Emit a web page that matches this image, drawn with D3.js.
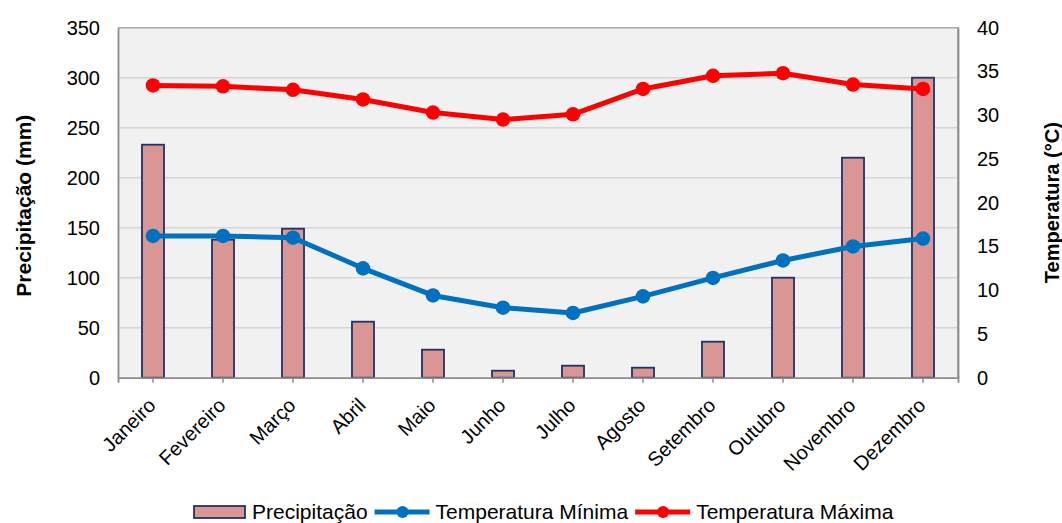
<!DOCTYPE html>
<html lang="pt">
<head>
<meta charset="utf-8">
<script src="https://cdn.jsdelivr.net/npm/d3@7"></script>
<style>
  html, body { margin: 0; padding: 0; background: #fff; }
  svg { display: block; font-family: "Liberation Sans", Arial, sans-serif; }
</style>
</head>
<body>
<svg id="chart" width="1062" height="523"></svg>
<script>
// Climate normals per month
const months = ["Janeiro", "Fevereiro", "Março", "Abril", "Maio", "Junho",
                "Julho", "Agosto", "Setembro", "Outubro", "Novembro", "Dezembro"];
const precipitation = [233, 138, 149, 56, 28, 7, 12, 10, 36, 100, 220, 300];
const tempMin = [16.2, 16.2, 16.0, 12.5, 9.4, 8.0, 7.4, 9.3, 11.4, 13.4, 15.0, 15.9];
const tempMax = [33.4, 33.3, 32.9, 31.8, 30.3, 29.5, 30.1, 33.0, 34.5, 34.8, 33.5, 33.0];
const precipTicks = [0, 50, 100, 150, 200, 250, 300, 350];
const tempTicks = [0, 5, 10, 15, 20, 25, 30, 35, 40];
const legendItems = ["Precipitação", "Temperatura Mínima", "Temperatura Máxima"];

const plot = { left: 118, right: 958, top: 27.7, bottom: 377.7 };
const colors = { barFill: "#d99694", barStroke: "#1f3467", min: "#0070c0", max: "#ff0000" };
const FONT = "Liberation Sans, Arial, sans-serif";

const svg = d3.select("#chart");

const x = d3.scaleBand().domain(months).range([plot.left, plot.right]).padding(0);
const yP = d3.scaleLinear().domain([0, 350]).range([plot.bottom, plot.top]);
const yT = d3.scaleLinear().domain([0, 40]).range([plot.bottom, plot.top]);
const cx = m => x(m) + x.bandwidth() / 2;
const barW = x.bandwidth() * 0.315;

// Plot background
svg.append("rect")
  .attr("x", plot.left).attr("y", plot.top)
  .attr("width", plot.right - plot.left).attr("height", plot.bottom - plot.top)
  .attr("fill", "#f1f1f1");

// Horizontal gridlines
svg.append("g").selectAll("line")
  .data(precipTicks.filter(v => v > 0 && v < 350))
  .join("line")
  .attr("x1", plot.left).attr("x2", plot.right)
  .attr("y1", d => yP(d)).attr("y2", d => yP(d))
  .attr("stroke", "#d6d6d6").attr("stroke-width", 1.6);

// Plot frame (top and right edges)
svg.append("path")
  .attr("d", `M${plot.left},${plot.top}H${plot.right}V${plot.bottom}`)
  .attr("fill", "none").attr("stroke", "#a6a6a6").attr("stroke-width", 1.6);

// Bars
svg.append("g").selectAll("rect")
  .data(months.map((m, i) => ({ m, v: precipitation[i] })))
  .join("rect")
  .attr("x", d => cx(d.m) - barW / 2)
  .attr("y", d => yP(d.v))
  .attr("width", barW)
  .attr("height", d => yP(0) - yP(d.v))
  .attr("fill", colors.barFill)
  .attr("stroke", colors.barStroke)
  .attr("stroke-width", 1.8);

// Left axis
const leftAxis = svg.append("g")
  .attr("transform", `translate(${plot.left},0)`)
  .call(d3.axisLeft(yP).tickValues(precipTicks).tickSize(0).tickPadding(18));
leftAxis.select(".domain").attr("stroke", "#8c8c8c").attr("stroke-width", 1.8);
leftAxis.selectAll("text").attr("font-size", 20).attr("fill", "#000").attr("font-family", FONT);

// Right axis
const rightAxis = svg.append("g")
  .attr("transform", `translate(${plot.right},0)`)
  .call(d3.axisRight(yT).tickValues(tempTicks).tickSize(0).tickPadding(19));
rightAxis.select(".domain").attr("stroke", "#8c8c8c").attr("stroke-width", 1.8);
rightAxis.selectAll("text").attr("font-size", 20).attr("fill", "#000").attr("font-family", FONT);

// Bottom axis with slanted month names
const bottomAxis = svg.append("g")
  .attr("transform", `translate(0,${plot.bottom})`)
  .call(d3.axisBottom(x).tickSize(5).tickSizeOuter(5));
bottomAxis.select(".domain").attr("stroke", "#8c8c8c").attr("stroke-width", 1.8);
bottomAxis.selectAll(".tick line").attr("stroke", "#8c8c8c").attr("stroke-width", 1.5);
bottomAxis.selectAll("text")
  .attr("font-size", 20).attr("fill", "#000").attr("font-family", FONT)
  .attr("text-anchor", "end")
  .attr("x", 0).attr("y", 0)
  .attr("dy", "0.35em")
  .attr("transform", "translate(-1,24) rotate(-45)");

// Axis titles
svg.append("text")
  .attr("transform", `translate(31,${(plot.top + plot.bottom) / 2 + 3}) rotate(-90)`)
  .attr("text-anchor", "middle")
  .attr("font-size", 21).attr("font-weight", "bold")
  .text("Precipitação (mm)");
svg.append("text")
  .attr("transform", `translate(1059,${(plot.top + plot.bottom) / 2}) rotate(-90)`)
  .attr("text-anchor", "middle")
  .attr("font-size", 20).attr("font-weight", "bold")
  .text("Temperatura (°C)");

// Temperature lines
const drawSeries = (values, color) => {
  const pts = months.map((m, i) => [cx(m), yT(values[i])]);
  svg.append("path")
    .attr("d", d3.line()(pts))
    .attr("fill", "none").attr("stroke", color)
    .attr("stroke-width", 5).attr("stroke-linejoin", "round");
  svg.append("g").selectAll("circle").data(pts).join("circle")
    .attr("cx", d => d[0]).attr("cy", d => d[1]).attr("r", 7.3)
    .attr("fill", color);
};
drawSeries(tempMin, colors.min);
drawSeries(tempMax, colors.max);

// Legend
const legend = svg.append("g").attr("font-size", 21);
const ly = 512;
let lx = 194;
legendItems.forEach((label, i) => {
  let tx;
  if (i === 0) {
    legend.append("rect")
      .attr("x", lx).attr("y", ly - 6).attr("width", 51).attr("height", 12)
      .attr("fill", colors.barFill).attr("stroke", colors.barStroke).attr("stroke-width", 1.8);
    tx = lx + 58;
  } else {
    const c = i === 1 ? colors.min : colors.max;
    legend.append("line")
      .attr("x1", lx).attr("x2", lx + 55).attr("y1", ly).attr("y2", ly)
      .attr("stroke", c).attr("stroke-width", 5);
    legend.append("circle").attr("cx", lx + 28).attr("cy", ly).attr("r", 6).attr("fill", c);
    tx = lx + 61;
  }
  const t = legend.append("text")
    .attr("x", tx).attr("y", ly).attr("dy", "0.35em")
    .text(label);
  lx = tx + t.node().getComputedTextLength() + 7;
});
</script>
</body>
</html>
